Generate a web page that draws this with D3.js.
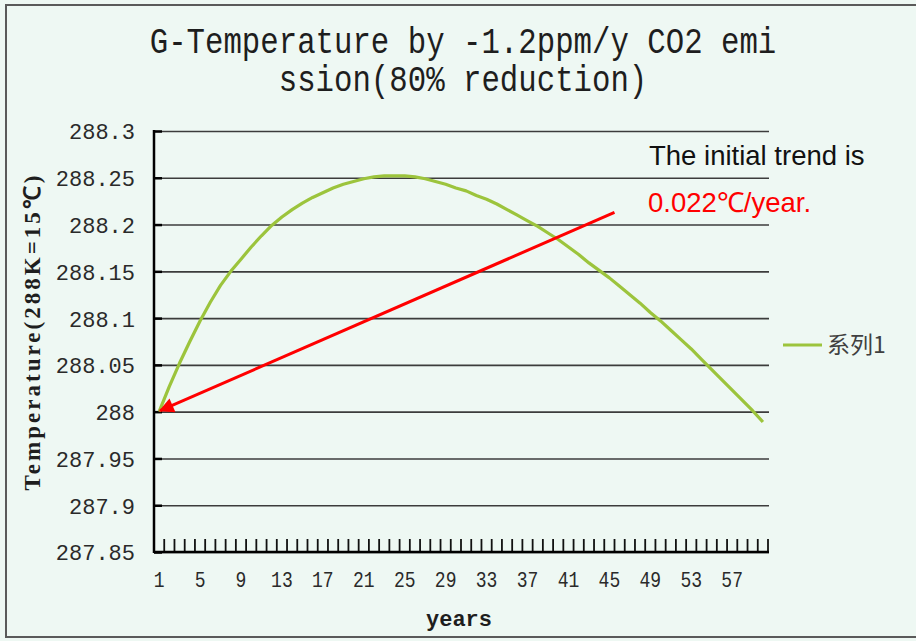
<!DOCTYPE html>
<html>
<head>
<meta charset="utf-8">
<script src="https://cdn.jsdelivr.net/npm/d3@7"></script>
<style>
  html, body { margin: 0; padding: 0; background: #eef8f3; }
  svg { display: block; }
</style>
</head>
<body>
<svg id="chart" width="916" height="641"></svg>
<script>
// ---- data ----
const titleLines = ["G-Temperature by -1.2ppm/y CO2 emi", "ssion(80% reduction)"];
const years = d3.range(1, 61);
const temperature = [
  288.000, 288.027, 288.052, 288.075, 288.097, 288.117, 288.135, 288.150, 288.163, 288.176,
  288.188, 288.199, 288.208, 288.216, 288.223, 288.229, 288.234, 288.239, 288.243, 288.246,
  288.249, 288.251, 288.252, 288.252, 288.252, 288.251, 288.249, 288.246, 288.243, 288.239,
  288.236, 288.231, 288.227, 288.222, 288.216, 288.210, 288.204, 288.198, 288.191, 288.184,
  288.176, 288.168, 288.159, 288.151, 288.143, 288.134, 288.125, 288.116, 288.106, 288.097,
  288.087, 288.077, 288.067, 288.056, 288.045, 288.034, 288.023, 288.012, 288.001, 287.989
];
const yTicks = [287.85, 287.9, 287.95, 288, 288.05, 288.1, 288.15, 288.2, 288.25, 288.3];
const yTickLabels = ["287.85", "287.9", "287.95", "288", "288.05", "288.1", "288.15", "288.2", "288.25", "288.3"];
const xTickYears = [1, 5, 9, 13, 17, 21, 25, 29, 33, 37, 41, 45, 49, 53, 57];
const seriesName = "系列1";
const xTitle = "years";
const yTitle = "Temperature(288K=15℃)";
const noteLine1 = "The initial trend is";
const noteLine2 = "0.022℃/year.";
const arrowFrom = {year: 46, value: 288.213};
const arrowTo = {year: 1, value: 288.0};

(function () {
// ---- layout ----
const svg = d3.select("#chart");
const pLeft = 154, pRight = 768, pTop = 131, pBottom = 552;
const green = "#9cc43c";

svg.append("rect").attr("x", 6).attr("y", 5).attr("width", 930).attr("height", 632)
  .attr("fill", "#eef8f3").attr("stroke", "#5a5a5a").attr("stroke-width", 2);

const x = d3.scaleBand().domain(years).range([pLeft, pRight]).padding(0);
const y = d3.scaleLinear().domain([287.85, 288.3]).range([pBottom, pTop]);

// title
const title = svg.append("g").attr("font-family", "Liberation Mono, monospace")
  .attr("font-size", 37).attr("fill", "#1e1e1e");
titleLines.forEach((t, i) => {
  title.append("text").attr("transform", `translate(463,${53 + i * 38}) scale(0.83,1)`)
    .attr("text-anchor", "middle").text(t);
});

// gridlines
const grid = svg.append("g").attr("transform", `translate(${pLeft},0)`)
  .call(d3.axisRight(y).tickValues(yTicks).tickSize(pRight - pLeft + 1).tickFormat(""));
grid.select(".domain").remove();
grid.selectAll("line").attr("stroke", "#3c3c3c").attr("stroke-width", 1.6);

// y axis labels
const yAxis = svg.append("g").attr("transform", `translate(${pLeft},0)`)
  .call(d3.axisLeft(y).tickValues(yTicks).tickSize(0).tickPadding(19)
    .tickFormat((d, i) => yTickLabels[i]));
yAxis.select(".domain").remove();
yAxis.selectAll("text").attr("font-family", "Liberation Mono, monospace")
  .attr("font-size", 22).attr("fill", "#2a2a2a").attr("dy", "0.36em");

// y inner ticks
svg.append("g").attr("transform", `translate(${pLeft},0)`)
  .call(d3.axisRight(y).tickValues(yTicks).tickSize(8).tickFormat(""))
  .call(g => g.select(".domain").remove())
  .selectAll("line").attr("stroke", "#000").attr("stroke-width", 2.5);

// x category ticks (at band boundaries, pointing up)
const boundaries = years.map(d => x(d)).concat([x.range()[1]]);
svg.append("g").selectAll("line").data(boundaries).join("line")
  .attr("x1", d => d).attr("x2", d => d)
  .attr("y1", pBottom).attr("y2", pBottom - 13)
  .attr("stroke", "#111").attr("stroke-width", 1.8);

// x axis labels
const xAxis = svg.append("g").attr("transform", `translate(0,${pBottom})`)
  .call(d3.axisBottom(x).tickValues(xTickYears).tickSize(0).tickPadding(0));
xAxis.select(".domain").remove();
xAxis.selectAll("text").attr("font-family", "Liberation Mono, monospace")
  .attr("font-size", 22).attr("fill", "#2a2a2a")
  .attr("y", 35).attr("dy", 0)
  .attr("transform", "scale(0.82,1)");

// axis lines
svg.append("line").attr("x1", pLeft).attr("x2", pLeft).attr("y1", pTop - 1).attr("y2", pBottom + 1)
  .attr("stroke", "#000").attr("stroke-width", 2.5);
svg.append("line").attr("x1", pLeft).attr("x2", pRight + 1).attr("y1", pBottom).attr("y2", pBottom)
  .attr("stroke", "#000").attr("stroke-width", 2.5);

// axis titles
svg.append("text").attr("x", 459).attr("y", 626).attr("text-anchor", "middle")
  .attr("font-family", "Liberation Mono, monospace").attr("font-weight", "bold")
  .attr("font-size", 22).attr("fill", "#1e1e1e").text(xTitle);

svg.append("text").attr("transform", "translate(40,333) rotate(-90)")
  .attr("text-anchor", "middle")
  .attr("font-family", "Liberation Serif, serif").attr("font-weight", "bold")
  .attr("font-size", 23).attr("fill", "#1e1e1e")
  .attr("textLength", 315).attr("lengthAdjust", "spacing")
  .text(yTitle);

// series line
const line = d3.line().x((d, i) => x(years[i]) + x.bandwidth() / 2).y(d => y(d));
svg.append("path").datum(temperature).attr("d", line)
  .attr("fill", "none").attr("stroke", green).attr("stroke-width", 3.2)
  .attr("stroke-linejoin", "round");

// legend
svg.append("line").attr("x1", 783).attr("x2", 822).attr("y1", 345).attr("y2", 345)
  .attr("stroke", green).attr("stroke-width", 3.2);
svg.append("text").attr("x", 827).attr("y", 353)
  .attr("font-family", "Noto Sans CJK SC, sans-serif").attr("font-size", 23)
  .attr("fill", "#404040").text(seriesName);

// annotation arrow
const defs = svg.append("defs");
defs.append("marker").attr("id", "arrow").attr("viewBox", "0 0 10 10")
  .attr("refX", 9).attr("refY", 5).attr("markerWidth", 5.5).attr("markerHeight", 5)
  .attr("orient", "auto").attr("markerUnits", "strokeWidth")
  .append("path").attr("d", "M0,0 L10,5 L0,10 Z").attr("fill", "#ff0000");
svg.append("line")
  .attr("x1", x(arrowFrom.year)).attr("y1", y(arrowFrom.value))
  .attr("x2", x(arrowTo.year) + x.bandwidth() / 2 + 1).attr("y2", y(arrowTo.value) - 1)
  .attr("stroke", "#ff0000").attr("stroke-width", 3)
  .attr("marker-end", "url(#arrow)");

svg.append("text").attr("x", 649).attr("y", 165)
  .attr("font-family", "Liberation Sans, Arial, sans-serif").attr("font-size", 27.5)
  .attr("fill", "#111").text(noteLine1);
svg.append("text").attr("x", 648).attr("y", 212)
  .attr("font-family", "Liberation Sans, Arial, sans-serif").attr("font-size", 27.5)
  .attr("fill", "#ff0000").text(noteLine2);
})();
</script>
</body>
</html>
